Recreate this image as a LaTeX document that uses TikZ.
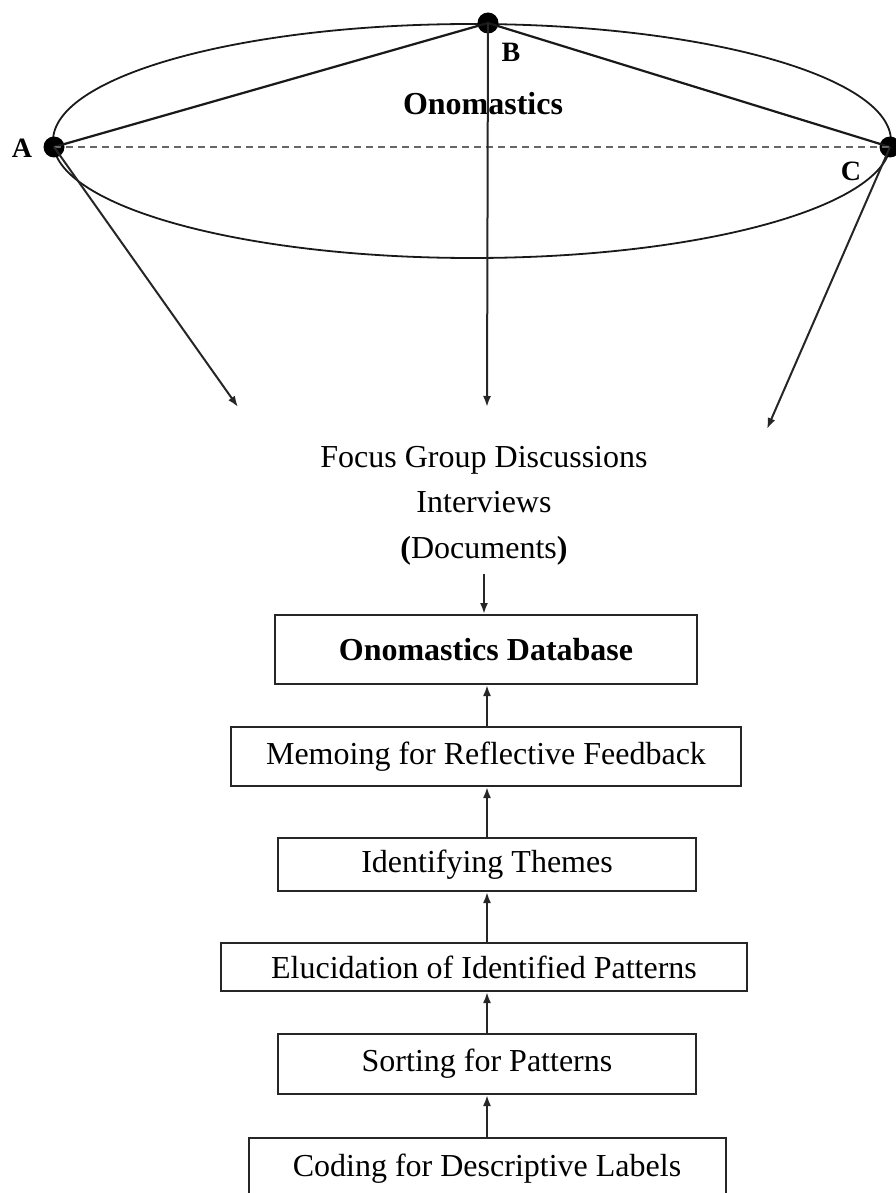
\documentclass[tikz,border=0pt]{standalone}
\usepackage{fontspec}
\setmainfont{Liberation Serif}
\usepackage{tikz}
\usetikzlibrary{arrows.meta}
\newcommand{\textsize}{\fontsize{32}{38}\selectfont}
\newcommand{\cornersize}{\fontsize{28}{33}\selectfont}
\tikzset{
    common/.style={draw=black!85, line width=2pt, inner sep=0pt, font=\textsize},
    stage/.style={common, rectangle},
    dot/.style={circle, fill=black, minimum size=21pt, inner sep=0pt},
    corner/.style={inner sep=0pt, font=\cornersize\bfseries},
    source/.style={inner sep=0pt, anchor=base, font=\textsize},
    flow/.style={-{Latex[length=11pt,width=8pt]}, line width=2pt, draw=black!85},
    tie/.style={line width=1.8pt, draw=black!90},
    base-line/.style={line width=2pt, draw=black!60, dash pattern=on 7pt off 5pt}
}
\begin{document}
\begin{tikzpicture}[x=1pt, y=-1pt]
    \useasboundingbox (0,0) rectangle (895,1193);

    % the triangle on the ellipse
    \draw[tie] (472,141) ellipse [x radius=419pt, y radius=117pt];
    \node[dot] (A) at (54,147) {};
    \node[dot] (B) at (488,23) {};
    \node[dot] (C) at (890,147) {};
    \node[corner] (label-a) at (22,148) {A};
    \node[corner] (label-b) at (511,52) {B};
    \node[corner] (label-c) at (851,171) {C};
    \node[corner, font=\textsize\bfseries] (topic) at (483,104) {Onomastics};

    \draw[tie, line width=2.2pt] (A.center) -- (B.center) -- (C.center);
    \draw[base-line] (A.center) -- (C.center);

    \coordinate (a-end) at (238,407);
    \coordinate (b-end) at (487,407);
    \coordinate (c-end) at (767,429);
    \draw[flow] (A.center) -- (a-end);
    \draw[flow] (B.center) -- (b-end);
    \draw[flow] (C.center) -- (c-end);

    % sources
    \node[source] (src1) at (484,467) {Focus Group Discussions};
    \node[source] (src2) at (484,512) {Interviews};
    \node[source] (src3) at (484,558) {\textbf{(}Documents\textbf{)}};

    % stages, bottom to top
    \node[stage, minimum width=422, minimum height=69] (database) at (486,649.5) {\textbf{Onomastics Database}};
    \node[stage, minimum width=510, minimum height=59] (memoing) at (486,756.5) {Memoing for Reflective Feedback};
    \node[stage, minimum width=418, minimum height=53] (themes) at (487,864.5) {Identifying Themes};
    \node[stage, minimum width=526, minimum height=48] (elucidation) at (484,967) {Elucidation of Identified Patterns};
    \node[stage, minimum width=418, minimum height=60] (sorting) at (487,1064) {Sorting for Patterns};
    \node[stage, minimum width=477, minimum height=62] (coding) at (487,1169) {Coding for Descriptive Labels};

    \draw[flow, shorten <=9pt] (src3.south) -- (src3.south |- database.north);
    \draw[flow] (coding.north) -- (coding.north |- sorting.south);
    \draw[flow] (sorting.north) -- (sorting.north |- elucidation.south);
    \draw[flow] (elucidation.north -| sorting.north) -- (sorting.north |- themes.south);
    \draw[flow] (themes.north) -- (themes.north |- memoing.south);
    \draw[flow] (memoing.north -| themes.north) -- (themes.north |- database.south);
\end{tikzpicture}
\end{document}
